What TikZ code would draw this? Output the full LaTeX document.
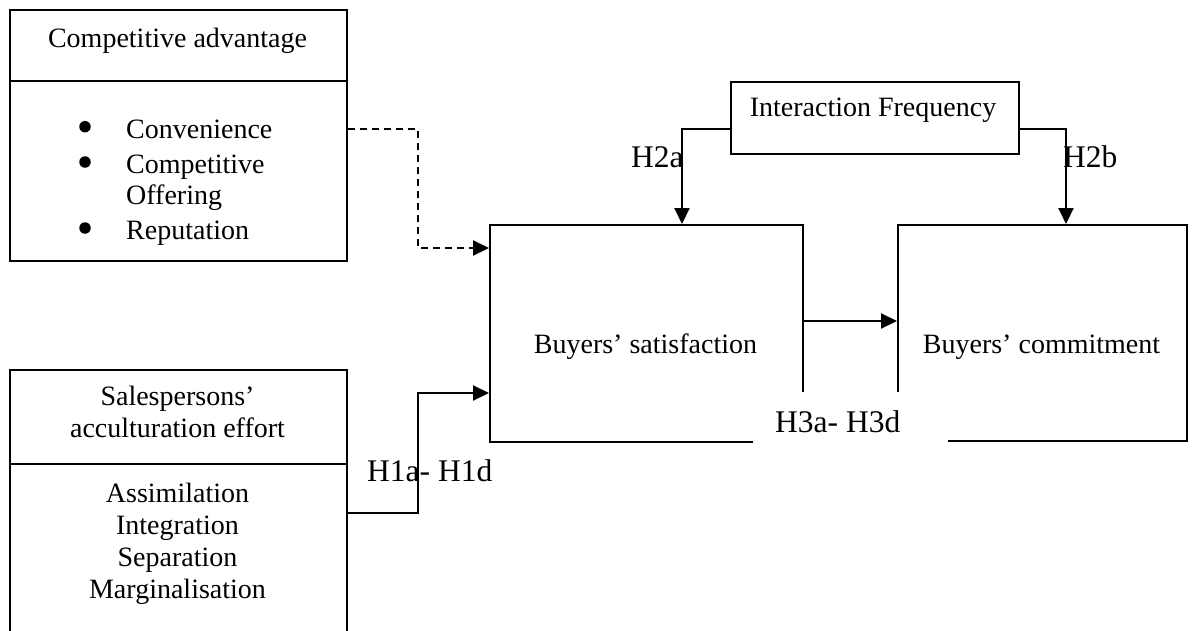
\documentclass[tikz,border=0pt]{standalone}
\usepackage{fontspec}
\setmainfont{Liberation Serif}
\usetikzlibrary{arrows.meta,calc}
\begin{document}
\begin{tikzpicture}[x=1pt,y=-1pt,
  box/.style={draw,line width=2pt,inner sep=0pt,anchor=north west},
  txt/.style={inner sep=0pt,font=\fontsize{28}{34}\selectfont},
  lbl/.style={inner sep=0pt,anchor=base west,font=\fontsize{31.5}{36}\selectfont},
  bul/.style={circle,fill,inner sep=0pt,minimum size=11.5pt},
  divider/.style={line width=2pt},
  conn/.style={line width=2pt,-{Triangle[length=16pt,width=15pt]}},
  dconn/.style={conn,dash pattern=on 7pt off 5pt},
  cover/.style={fill=white,inner sep=0pt,anchor=north west}]
\useasboundingbox (0,0) rectangle (1193,630);
\clip (0,0) rectangle (1193,630);

% Competitive advantage box
\node[box,minimum width=337pt,minimum height=251pt] (ca) at (9,9) {};
\coordinate (cadiv) at (0,81);
\draw[divider] (ca.west |- cadiv) -- (ca.east |- cadiv);
\node[txt,anchor=base] (catitle) at (177.5,47) {Competitive advantage};
\node[bul] (b1) at (85,126.7) {};
\node[bul] (b2) at (85,162) {};
\node[bul] (b3) at (85,228) {};
\node[txt,anchor=base west] (calist) at (126,138.3)
  {\fontsize{28}{30.7}\selectfont\begin{tabular}[t]{@{}l@{}}Convenience\\[4.4pt]Competitive\\Offering\\[4.4pt]Reputation\end{tabular}};

% Salespersons' acculturation effort box (open at the bottom edge)
\node[box,minimum width=337pt,minimum height=300pt] (sa) at (9,369) {};
\coordinate (sadiv) at (0,464);
\draw[divider] (sa.west |- sadiv) -- (sa.east |- sadiv);
\node[txt,anchor=base] (satitle) at (177.5,405)
  {\fontsize{28}{32.3}\selectfont\begin{tabular}[t]{@{}c@{}}Salespersons’\\acculturation effort\end{tabular}};
\node[txt,anchor=base] (salist) at (177.5,502)
  {\fontsize{28}{32.2}\selectfont\begin{tabular}[t]{@{}c@{}}Assimilation\\Integration\\Separation\\Marginalisation\end{tabular}};

% Interaction frequency
\node[box,minimum width=288pt,minimum height=72pt] (ifr) at (730,81) {};
\node[txt,anchor=base] (ifrtext) at (873,116) {Interaction Frequency};

% Buyers' satisfaction and commitment
\node[box,minimum width=313pt,minimum height=217pt] (bs) at (489,224) {};
\node[txt,anchor=base] (bstext) at (645.5,353) {Buyers’ satisfaction};
\node[box,minimum width=289pt,minimum height=216pt] (bc) at (897,224) {};
\node[txt,anchor=base] (bctext) at (1041.5,353) {Buyers’ commitment};

% Connectors
\coordinate (d1) at (418,129);
\coordinate (d2) at (418,248);
\draw[dconn] (ca.east |- d1) -- (d1) -- (d2) -- (bs.west |- d2);

\coordinate (h1a) at (418,513);
\coordinate (h1b) at (418,393);
\draw[conn] (sa.east |- h1a) -- (h1a) -- (h1b) -- (bs.west |- h1b);

\coordinate (h2a) at (682,129);
\draw[conn] (ifr.west |- h2a) -- (h2a) -- (h2a |- bs.north);
\coordinate (h2b) at (1066,129);
\draw[conn] (ifr.east |- h2b) -- (h2b) -- (h2b |- bc.north);

\coordinate (h3y) at (0,321);
\draw[conn] (bs.east |- h3y) -- (bc.west |- h3y);

% Label covering the lower gap
\node[cover,minimum width=195pt,minimum height=63pt] (h3cover) at (753,392) {};

% Labels
\node[lbl] (h1lbl) at (367,481) {H1a- H1d};
\node[lbl] (h2albl) at (631,167) {H2a};
\node[lbl] (h2blbl) at (1063,167) {H2b};
\node[lbl] (h3lbl) at (775,432) {H3a- H3d};
\end{tikzpicture}
\end{document}
